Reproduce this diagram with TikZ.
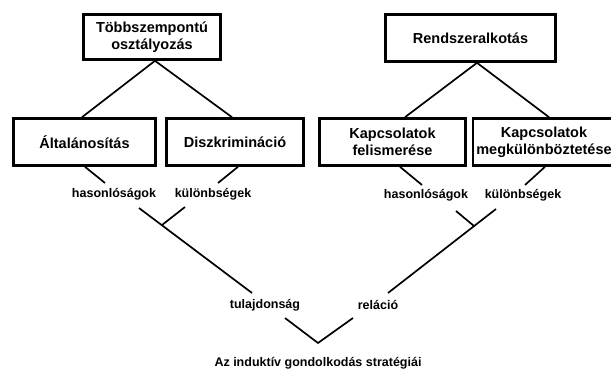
\documentclass[tikz,border=0pt]{standalone}
\usepackage{fontspec}
\setmainfont{Liberation Sans}
\usetikzlibrary{calc}
\begin{document}
\begin{tikzpicture}[x=1pt,y=-1pt,
  box/.style={draw,line width=2.6pt,align=center,inner sep=0pt,
    font=\fontsize{14.5}{17}\selectfont\bfseries},
  lbl/.style={inner sep=0pt,font=\fontsize{12.5}{15}\selectfont\bfseries},
  conn/.style={line width=1.7pt}]
\useasboundingbox (0,0) rectangle (611,372);
\clip (0,0) rectangle (611,372);
\fill[white] (0,0) rectangle (611,372);
% boxes
\node[box,minimum width=137pt,minimum height=45pt] (T) at (152,37) {Többszempontú\\osztályozás};
\node[box,minimum width=170pt,minimum height=47pt] (R) at (470.5,38) {Rendszeralkotás};
\node[box,minimum width=142pt,minimum height=47pt] (A) at (84.5,142) {Általánosítás};
\node[box,minimum width=137pt,minimum height=47pt] (D) at (235,142) {Diszkrimináció};
\node[box,minimum width=146pt,minimum height=47pt] (KF) at (392.5,142) {Kapcsolatok\\felismerése};
\node[box,minimum width=142pt,minimum height=47pt] (KM) at (544,142) {Kapcsolatok\\megkülönböztetése};
% labels
\node[lbl] (hasL) at (114,194) {hasonlóságok};
\node[lbl] (difL) at (213,194) {különbségek};
\node[lbl] (hasR) at (426,195) {hasonlóságok};
\node[lbl] (difR) at (523,195) {különbségek};
\node[lbl] (tul) at (265,305) {tulajdonság};
\node[lbl] (rel) at (378,305) {reláció};
\node[lbl] (title) at (318,363) {Az induktív gondolkodás stratégiái};
\coordinate (jL) at (162,225);
\coordinate (jR) at (474,226);
% tree lines from top boxes
\draw[conn] ($(A.north)+(-2.5,0)$) -- ($(T.south)+(3,0)$) -- ($(D.north)+(-3,0)$);
\draw[conn] ($(KF.north)+(12.5,0)$) -- ($(R.south)+(6.5,0)$) -- ($(KM.north)+(5,0)$);
% boxes to labels
\draw[conn] ($(A.south)+(0.5,0)$) -- ($(hasL)+(-9,-11)$);
\draw[conn] ($(D.south)+(3,0)$) -- ($(difL)+(5,-11)$);
\draw[conn] ($(KF.south)+(7.5,0)$) -- ($(hasR)+(-4,-10)$);
\draw[conn] ($(KM.south)+(1,0)$) -- ($(difR)+(2,-10)$);
% second level
\draw[conn] ($(hasL)+(25,14)$) -- ($(tul)+(-13,-12)$);
\draw[conn] ($(difL)+(-28,13)$) -- (jL);
\draw[conn] ($(hasR)+(30,16)$) -- (jR);
\draw[conn] ($(difR)+(-27,14)$) -- ($(rel)+(10,-12)$);
% final V
\draw[conn] ($(tul)+(20,13)$) -- ($(title)+(0,-20)$) -- ($(rel)+(-25,13)$);
\end{tikzpicture}
\end{document}
